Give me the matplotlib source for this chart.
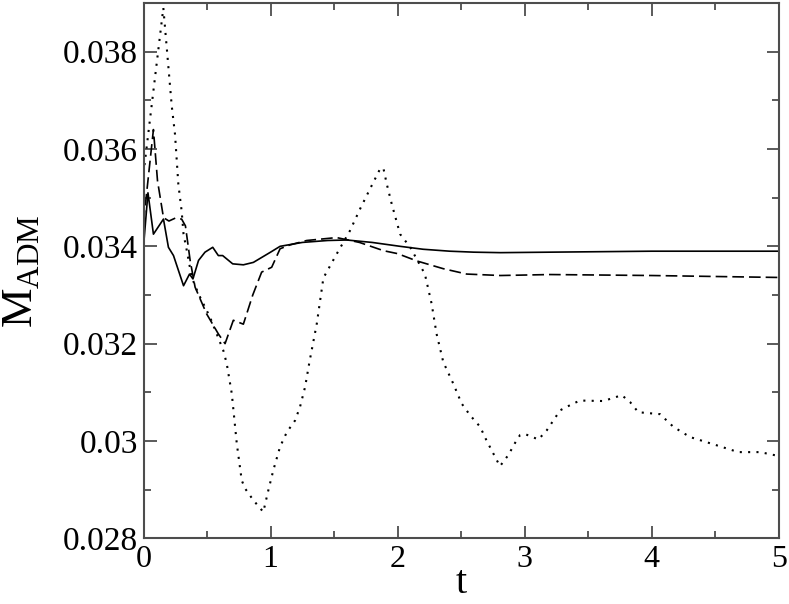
import numpy as np
import matplotlib
matplotlib.use("Agg")
import matplotlib.pyplot as plt
from matplotlib.ticker import MultipleLocator, FormatStrFormatter

plt.rcParams['font.family'] = ['Liberation Serif', 'DejaVu Serif']
plt.rcParams['mathtext.fontset'] = 'custom'
plt.rcParams['mathtext.rm'] = 'Liberation Serif'

# solid curve
tSolid = [0, 0.035, 0.078, 0.157, 0.196, 0.236, 0.315, 0.362, 0.389, 0.433, 0.484, 0.545,
          0.589, 0.623, 0.702, 0.786, 0.865, 1.0, 1.075, 1.25, 1.45, 1.6, 1.8, 2.02, 2.2,
          2.41, 2.6, 2.81, 3.2, 3.6, 4.0, 4.5, 5.0]
mSolid = [0.0340, 0.0351, 0.03425, 0.03456, 0.03398, 0.03381, 0.03319, 0.03343, 0.03333,
          0.03371, 0.03388, 0.03398, 0.03381, 0.03381, 0.03364, 0.03362, 0.03367, 0.03388,
          0.03400, 0.03408, 0.03412, 0.03413, 0.03408, 0.03400, 0.03394, 0.0339, 0.03388,
          0.03387, 0.03388, 0.03389, 0.0339, 0.0339, 0.0339]

# dashed curve
tDashed = [0, 0.078, 0.11, 0.157, 0.2, 0.25, 0.3, 0.33, 0.367, 0.406, 0.497, 0.589, 0.642,
           0.707, 0.786, 0.86, 0.93, 1.009, 1.075, 1.154, 1.285, 1.52, 1.7, 1.89, 2.0, 2.151,
           2.36, 2.544, 2.81, 3.2, 4.0, 5.0]
mDashed = [0.0345, 0.0364, 0.03535, 0.03459, 0.03452, 0.03458, 0.03456, 0.03442, 0.03371,
           0.03316, 0.03261, 0.0322, 0.0320, 0.03248, 0.0324, 0.03300, 0.03347, 0.03357,
           0.03395, 0.03403, 0.03412, 0.03418, 0.03408, 0.03391, 0.03385, 0.0337, 0.03354,
           0.03343, 0.0334, 0.03342, 0.0334, 0.03336]

# dotted curve
tDotted = [0, 0.156, 0.222, 0.248, 0.274, 0.3, 0.315, 0.341, 0.38, 0.433, 0.524, 0.628,
           0.655, 0.695, 0.734, 0.773, 0.8, 0.865, 0.943, 0.983, 1.022, 1.075, 1.128, 1.193,
           1.232, 1.272, 1.306, 1.364, 1.416, 1.52, 1.625, 1.705, 1.783, 1.862, 1.888, 1.915,
           1.954, 2.02, 2.1, 2.215, 2.268, 2.307, 2.36, 2.438, 2.504, 2.57, 2.65, 2.7, 2.754,
           2.806, 2.872, 2.925, 2.964, 3.004, 3.109, 3.175, 3.28, 3.384, 3.437, 3.62, 3.765,
           3.83, 3.895, 4.066, 4.171, 4.302, 4.512, 4.682, 4.854, 5.0]
mDotted = [0.0355, 0.0389, 0.03689, 0.0363, 0.03528, 0.03473, 0.03425, 0.03391, 0.03336,
           0.03302, 0.03254, 0.03186, 0.03159, 0.03097, 0.02995, 0.02919, 0.02902, 0.02878,
           0.02854, 0.02899, 0.0294, 0.02988, 0.03018, 0.03042, 0.0307, 0.03111, 0.03162,
           0.03241, 0.03335, 0.03384, 0.03432, 0.03477, 0.03518, 0.03559, 0.03561, 0.03528,
           0.03487, 0.03425, 0.03398, 0.03343, 0.03282, 0.0322, 0.03162, 0.03118, 0.03077,
           0.03053, 0.03029, 0.03001, 0.02974, 0.02948, 0.02971, 0.02996, 0.03012, 0.03014,
           0.03003, 0.03022, 0.03063, 0.03077, 0.03083, 0.03082, 0.03094, 0.0308, 0.03059,
           0.03055, 0.03029, 0.03008, 0.02991, 0.02977, 0.02977, 0.02969]

fig = plt.figure(figsize=(7.89, 6.04), dpi=100)
ax = fig.add_axes([0.1819, 0.1089, 0.805, 0.886])

ax.plot(tSolid, mSolid, color='black', lw=1.2, ls='-')
ax.plot(tDashed, mDashed, color='black', lw=1.2, ls=(0, (7, 3)))
ax.plot(tDotted, mDotted, color='black', lw=1.5, ls=(0, (1, 3)))

ax.set_xlim(0, 5)
ax.set_ylim(0.028, 0.039)

ax.xaxis.set_major_locator(MultipleLocator(1))
ax.xaxis.set_minor_locator(MultipleLocator(0.5))
ax.yaxis.set_major_locator(MultipleLocator(0.002))
ax.yaxis.set_minor_locator(MultipleLocator(0.001))
ax.yaxis.set_major_formatter(FormatStrFormatter('%g'))
ax.xaxis.set_major_formatter(FormatStrFormatter('%g'))

ax.tick_params(which='both', direction='in', top=True, right=True, color='0.3', width=1.3)
ax.tick_params(which='major', length=9)
ax.tick_params(which='minor', length=4.8)
ax.tick_params(axis='y', which='major', labelsize=24, pad=4)
ax.tick_params(axis='x', which='major', labelsize=23, pad=5)
for s in ax.spines.values():
    s.set_color('0.3')
    s.set_linewidth(1.5)

ax.set_xlabel('t', fontsize=29)
ax.set_ylabel(r'$\mathrm{M}_{\mathrm{ADM}}$', fontsize=32)
ax.xaxis.set_label_coords(0.5, -0.05)
ax.yaxis.set_label_coords(-0.16, 0.5)

fig.savefig('out.png', dpi=100)
